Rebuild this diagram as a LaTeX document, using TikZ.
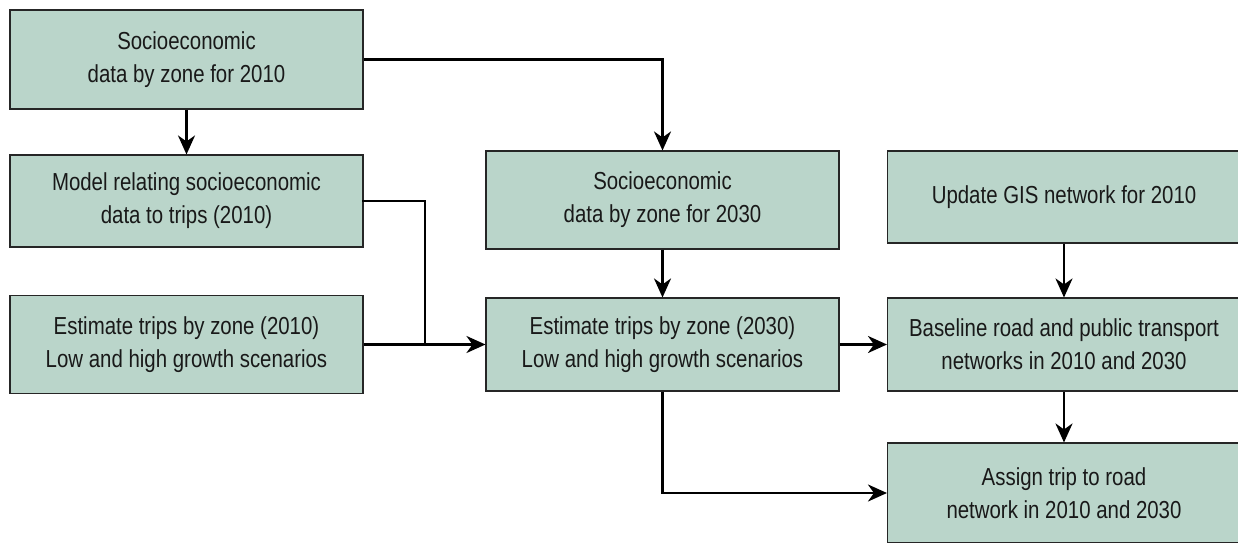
\documentclass[tikz,border=0pt]{standalone}
\usepackage{fontspec}
\setmainfont[FakeStretch=0.83]{Liberation Sans}
\usepackage{tikz}
\usetikzlibrary{arrows.meta}
\definecolor{boxfill}{RGB}{186,213,202}
\tikzset{
  stage/.style={draw=black!85, line width=0.6pt, fill=boxfill, text=black!90,
    minimum width=7.06cm, align=center, inner sep=0pt,
    font=\fontsize{14}{18.7}\selectfont},
  flow/.style={line width=1.5pt, black}
}

\begin{document}
\begin{tikzpicture}[>={Stealth[length=0.38cm,width=0.34cm,inset=0.12cm]}]
            \useasboundingbox (0,0) rectangle (24.76,10.84);
            \clip (0,0) rectangle (24.76,10.84);
            \node[stage, minimum height=1.98cm] (se10) at (3.73,9.65) {Socioeconomic\\data by zone for 2010};
            \node[stage, minimum height=1.84cm] (model) at (3.73,6.82) {Model relating socioeconomic\\data to trips (2010)};
            \node[stage, minimum height=1.96cm] (trip10) at (3.73,3.95) {Estimate trips by zone (2010)\\Low and high growth scenarios};
            \node[stage, minimum height=1.96cm] (se30) at (13.25,6.84) {Socioeconomic\\data by zone for 2030};
            \node[stage, minimum height=1.86cm] (trip30) at (13.25,3.95) {Estimate trips by zone (2030)\\Low and high growth scenarios};
            \node[stage, minimum height=1.84cm] (gis) at (21.28,6.9) {Update GIS network for 2010};
            \node[stage, minimum height=1.86cm] (base) at (21.28,3.95) {Baseline road and public transport\\networks in 2010 and 2030};
            \node[stage, minimum height=2.0cm] (assign) at (21.28,0.98) {Assign trip to road\\network in 2010 and 2030};
            \coordinate (join) at (8.5,3.95);
            \coordinate (bend) at (8.5,6.82);
            \draw[flow,->] (se10) -- (model);
            \draw[flow,->] (se10.east) -| (se30.north);
            \draw[flow,line cap=rect] (model.east) -- (bend);
            \draw[flow,line cap=rect] (bend) -- (join);
            \draw[flow,->] (trip10.east) -- (trip30.west);
            \draw[flow,->] (se30) -- (trip30);
            \draw[flow,->] (trip30.east) -- (base.west);
            \draw[flow,->] (gis) -- (base);
            \draw[flow,->] (base) -- (assign);
            \draw[flow,->] (trip30.south) |- (assign.west);
        \end{tikzpicture}
\end{document}
